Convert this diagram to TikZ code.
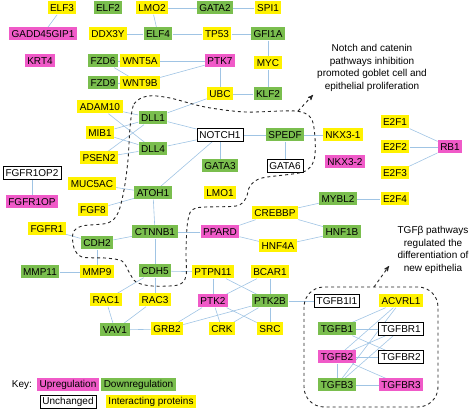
\documentclass[tikz,border=0pt]{standalone}
\usepackage{fontspec}
\setmainfont{Liberation Sans}
\usetikzlibrary{arrows}
\usetikzlibrary{positioning}
\usetikzlibrary{backgrounds}
\definecolor{uppink}{RGB}{240,90,200}
\definecolor{downgreen}{RGB}{122,190,78}
\definecolor{linkblue}{RGB}{160,196,228}

\begin{document}
\begin{tikzpicture}[x=1pt,y=-1pt]
    \tikzset{
      >=stealth',
      node distance=28pt,
      gene/.style={inner xsep=2.5pt, inner ysep=0pt, minimum height=13pt,
        font=\fontsize{10}{12}\selectfont},
      upgene/.style={gene, fill=uppink},
      downgene/.style={gene, fill=downgreen},
      samegene/.style={gene, draw=black, fill=white, line width=0.6pt},
      intergene/.style={gene, fill=yellow},
      link/.style={every edge/.style={draw=linkblue, line width=0.6pt}},
      region/.style={dashed, line width=0.9pt, black!85},
      note/.style={align=center, font=\fontsize{10}{12.5}\selectfont},
    }
    \useasboundingbox (0,0) rectangle (472,411);

    % top block
    \node[intergene] (ELF3) at (62,8) {ELF3};
    \node[upgene] (GADD45GIP1) at (43,34) {GADD45GIP1};
    \node[upgene] (KRT4) at (40,61) {KRT4};
    \node[downgene] (ELF2) at (108,8) {ELF2};
    \node[intergene] (DDX3Y) at (108,34) {DDX3Y};
    \node[downgene] (FZD6) at (103,61) {FZD6};
    \node[downgene] (FZD9) at (103,83) {FZD9};
    \node[intergene] (LMO2) at (152,8) {LMO2};
    \node[downgene] (GATA2) at (215,8) {GATA2};
    \node[intergene] (SPI1) at (268,8) {SPI1};
    \node[downgene] (ELF4) at (158,34) {ELF4};
    \node[intergene] (TP53) at (217,34) {TP53};
    \node[downgene] (GFI1A) at (268,34) {GFI1A};
    \node[intergene] (WNT5A) at (140,61) {WNT5A};
    \node[intergene] (WNT9B) at (140,83) {WNT9B};
    \node[upgene] (PTK7) at (220,61) {PTK7};
    \node[intergene] (MYC) at (268,63) {MYC};
    \node[intergene] (UBC) at (220,94) {UBC};
    \node[downgene] (KLF2) at (268,94) {KLF2};

    % notch block
    \node[intergene] (ADAM10) at (100,107) {ADAM10};
    \node[intergene] (MIB1) at (100,133) {MIB1};
    \node[intergene] (PSEN2) at (99,158) {PSEN2};
    \node[intergene] (MUC5AC) at (92,184) {MUC5AC};
    \node[downgene] (DLL1) at (153,118) {DLL1};
    \node[downgene] (DLL4) at (153,149) {DLL4};
    \node[downgene] (ATOH1) at (153,193) {ATOH1};
    \node[samegene] (NOTCH1) at (220,135) {NOTCH1};
    \node[downgene] (SPEDF) at (285,135) {SPEDF};
    \node[downgene] (GATA3) at (220,166) {GATA3};
    \node[samegene] (GATA6) at (285,166) {GATA6};
    \node[intergene] (LMO1) at (220,193) {LMO1};
    \node[intergene] (nkx31) at (343,135) {NKX3-1};
    \node[upgene] (nkx32) at (345,162) {NKX3-2};
    \node[intergene] (E2F1) at (395,122) {E2F1};
    \node[intergene] (E2F2) at (395,147) {E2F2};
    \node[intergene] (E2F3) at (395,173) {E2F3};
    \node[upgene] (RB1) at (450,147) {RB1};

    % middle block
    \node[samegene] (FGFR1OP2) at (32,173) {FGFR1OP2};
    \node[upgene] (FGFR1OP) at (32,202) {FGFR1OP};
    \node[intergene] (FGF8) at (93,210) {FGF8};
    \node[intergene] (FGFR1) at (47,229) {FGFR1};
    \node[downgene] (CDH2) at (97,243) {CDH2};
    \node[downgene] (CTNNB1) at (155,232) {CTNNB1};
    \node[upgene] (PPARD) at (220,232) {PPARD};
    \node[intergene] (CREBBP) at (275,213) {CREBBP};
    \node[intergene] (HNF4A) at (278,246) {HNF4A};
    \node[downgene] (MYBL2) at (338,199) {MYBL2};
    \node[intergene] (E2F4) at (395,199) {E2F4};
    \node[downgene] (HNF1B) at (342,232) {HNF1B};

    % lower block
    \node[downgene] (MMP11) at (40,272) {MMP11};
    \node[intergene] (MMP9) at (97,272) {MMP9};
    \node[downgene] (CDH5) at (155,271) {CDH5};
    \node[intergene] (PTPN11) at (213,272) {PTPN11};
    \node[intergene] (BCAR1) at (270,272) {BCAR1};
    \node[intergene] (RAC1) at (106,300) {RAC1};
    \node[intergene] (RAC3) at (155,300) {RAC3};
    \node[upgene] (PTK2) at (213,301) {PTK2};
    \node[downgene] (PTK2B) at (270,301) {PTK2B};
    \node[downgene] (VAV1) at (115,330) {VAV1};
    \node[intergene] (GRB2) at (167,329) {GRB2};
    \node[intergene] (CRK) at (222,329) {CRK};
    \node[intergene] (SRC) at (270,329) {SRC};

    % tgf block
    \node[samegene] (TGFB1I1) at (337,301) {TGFB1I1};
    \node[downgene, below of=TGFB1I1] (TGFB1) {TGFB1};
    \node[upgene, below of=TGFB1] (TGFB2) {TGFB2};
    \node[downgene, below of=TGFB2] (TGFB3) {TGFB3};
    \node[intergene] (ACVRL1) at (401,301) {ACVRL1};
    \node[samegene, below of=ACVRL1] (TGFBR1) {TGFBR1};
    \node[samegene, below of=TGFBR1] (TGFBR2) {TGFBR2};
    \node[upgene, below of=TGFBR2] (TGFBR3) {TGFBR3};

    % key
    \node[gene] (key) at (22,385) {Key:};
    \node[upgene] (keyup) at (68,385) {Upregulation};
    \node[downgene] (keydown) at (138.5,385) {Downregulation};
    \node[samegene] (keysame) at (68,402) {Unchanged};
    \node[intergene] (keyinter) at (151,402) {Interacting proteins};

    \begin{scope}[on background layer, link]
    \draw
      (ELF3) edge (GADD45GIP1)
      (DDX3Y) edge (ELF4)
      (LMO2) edge (GATA2)
      (GATA2) edge (SPI1)
      (LMO2) edge (ELF4)
      (ELF4) edge (TP53)
      (TP53) edge (GFI1A)
      (GFI1A) edge (MYC)
      (MYC) edge (KLF2)
      (FZD6) edge (WNT5A)
      (FZD6) edge (WNT9B)
      (FZD9) edge (WNT9B)
      (WNT5A) edge (PTK7)
      (WNT9B) edge (PTK7)
      (PTK7) edge (UBC)
      (UBC) edge (KLF2)
      (UBC) edge (DLL1)
      (ADAM10) edge (DLL1)
      (ADAM10) edge (DLL4)
      (MIB1) edge (DLL1)
      (MIB1) edge (DLL4)
      (PSEN2) edge (DLL1)
      (PSEN2) edge (DLL4)
      (DLL1) edge (NOTCH1)
      (DLL4) edge (NOTCH1)
      (ATOH1) edge (NOTCH1)
      (NOTCH1) edge (SPEDF)
      (NOTCH1) edge (GATA3)
      (SPEDF) edge (GATA6)
      (SPEDF) edge (nkx31)
      (MUC5AC) edge (ATOH1)
      (FGF8) edge (ATOH1)
      (FGFR1OP2) edge (FGFR1OP)
      (ATOH1) edge (CTNNB1)
      (CTNNB1) edge (CDH5)
      (CTNNB1) edge (CDH2)
      (CTNNB1) edge (PPARD)
      (FGFR1) edge (CDH2)
      (CDH2) edge (MMP9)
      (MMP11) edge (MMP9)
      (CDH5) edge (RAC1)
      (CDH5) edge (RAC3)
      (CDH5) edge (PTPN11)
      (RAC1) edge (VAV1)
      (RAC3) edge (VAV1)
      (VAV1) edge (GRB2)
      (PPARD) edge (CREBBP)
      (PPARD) edge (HNF4A)
      (CREBBP) edge (MYBL2)
      (CREBBP) edge (HNF1B)
      (HNF4A) edge (HNF1B)
      (MYBL2) edge (E2F4)
      (E2F1) edge (RB1)
      (E2F2) edge (RB1)
      (E2F3) edge (RB1)
      (PTPN11) edge (PTK2)
      (PTPN11) edge (PTK2B)
      (BCAR1) edge (PTK2)
      (BCAR1) edge (PTK2B)
      (PTK2) edge (GRB2)
      (PTK2) edge (CRK)
      (PTK2) edge (SRC)
      (PTK2B) edge (GRB2)
      (PTK2B) edge (CRK)
      (PTK2B) edge (SRC)
      (PTK2B) edge (TGFB1I1)
      (TGFB1) edge (ACVRL1)
      (TGFB1) edge (TGFBR1)
      (TGFB1) edge (TGFBR2)
      (TGFB2) edge (ACVRL1)
      (TGFB2) edge (TGFBR1)
      (TGFB2) edge (TGFBR2)
      (TGFB2) edge (TGFBR3)
      (TGFB3) edge (ACVRL1)
      (TGFB3) edge (TGFBR1)
      (TGFB3) edge (TGFBR3)
      (TGFB2) edge (TGFB3);
    \end{scope}

    % pathway regions
    \draw[region] plot[smooth cycle, tension=0.5] coordinates {
      (130,128) (134,104) (148,96) (170,98) (205,107) (245,112) (295,111)
      (311,118) (315,138) (314,160) (303,172) (262,178) (250,186) (246,198)
      (236,206) (196,208) (188,220) (186,250) (186,276) (178,285) (152,286)
      (136,282) (129,272) (122,261) (105,258) (82,257) (74,248) (73,233)
      (82,226) (108,223) (118,213) (124,190) (128,160)};
    \draw[region] (304,287) [rounded corners=20pt] rectangle (438,407);

    \node[note] (notchtext) at (372,68)
      {Notch and catenin\\pathways inhibition\\promoted goblet cell and\\epithelial proliferation};
    \node[note] (tgftext) at (433,250)
      {TGFβ pathways\\regulated the\\differentiation of\\new epithelia};
    \coordinate (notchtip) at (313,95);
    \coordinate (tgftip) at (389,266);
    \draw[region, ->] (298,111) -- (notchtip);
    \draw[region, ->] (374,287) -- (tgftip);
  \end{tikzpicture}
\end{document}
